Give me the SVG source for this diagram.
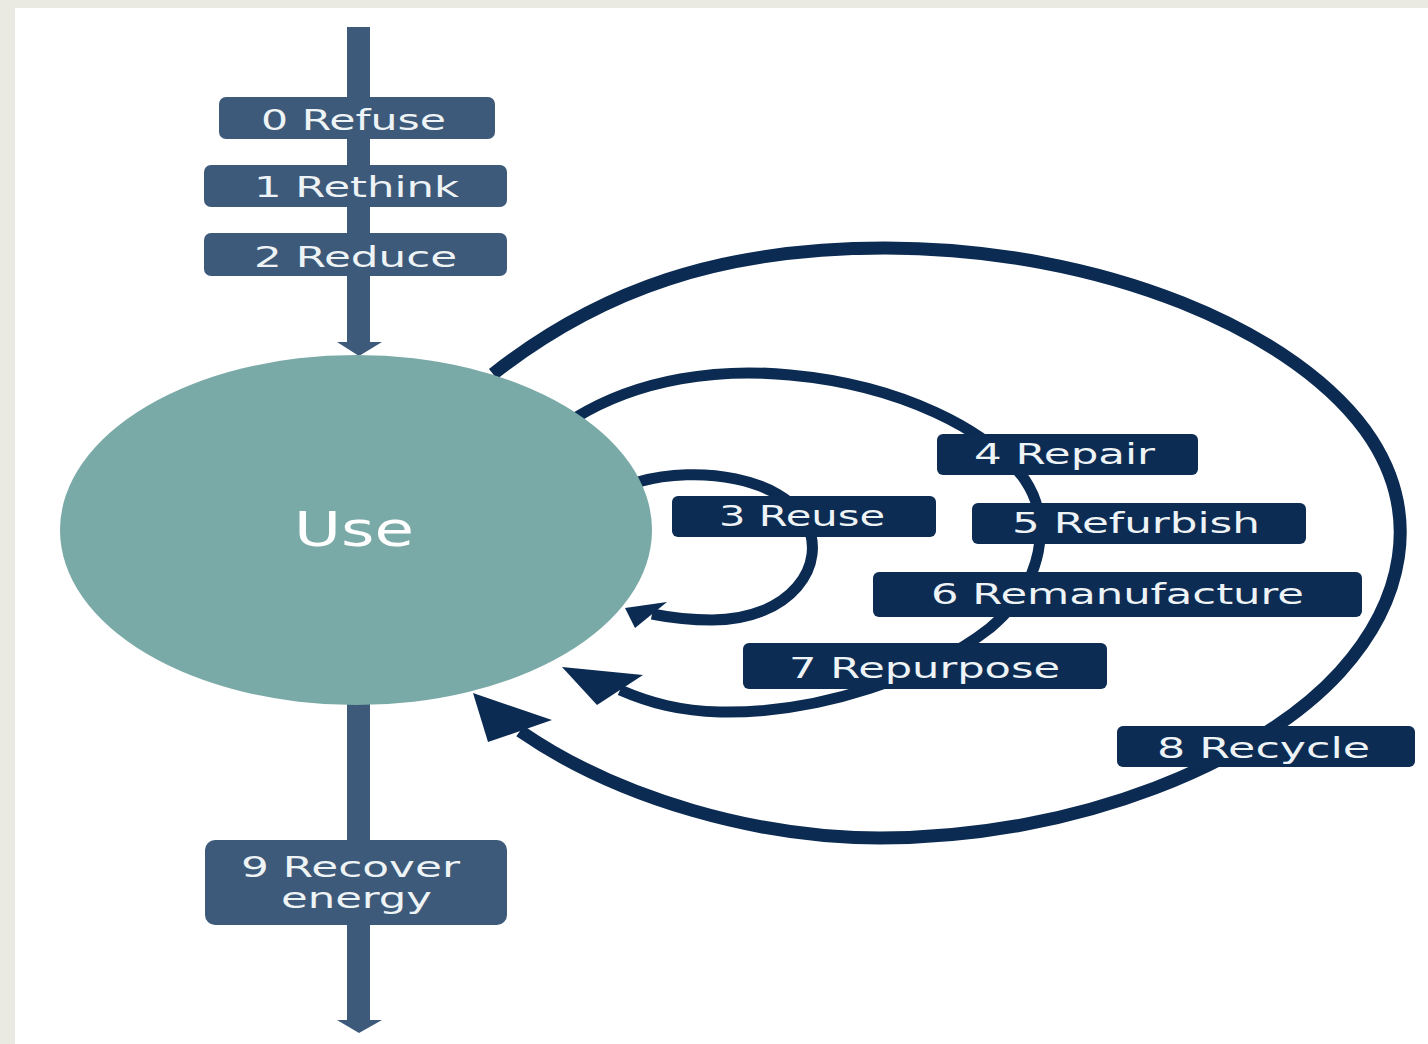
<svg xmlns="http://www.w3.org/2000/svg" width="1428" height="1044" viewBox="0 0 1428 1044">
  <style>
    .lbox { fill: #3d5a7a; }
    .rbox { fill: #0c2c54; }
    .lbl { font-family: "DejaVu Sans", Verdana, sans-serif; font-size: 28px; fill: #eef3f6; }
    .loop { fill: none; stroke: #0c2b52; stroke-linecap: butt; }
    .head { fill: #0c2b52; }
    .shaft { fill: #3d5a7a; }
  </style>
  <rect x="0" y="0" width="1428" height="1044" fill="#eaeae2"/>
  <rect x="15" y="8" width="1413" height="1036" fill="#ffffff"/>

  <g id="connectors">
    <!-- vertical flow -->
    <rect class="shaft" x="347" y="27" width="23" height="316"/>
    <polygon class="shaft" points="337,342 382,342 359,356"/>
    <rect class="shaft" x="347" y="700" width="23" height="322"/>
    <polygon class="shaft" points="337,1020 382,1020 359,1033"/>
    <!-- 3 Reuse loop -->
    <path class="loop" stroke-width="11" d="M 638 482 C 700 465 780 478 805 520 C 830 565 790 620 712 620 C 690 620 672 618 652 614"/>
    <polygon class="head" points="625,608 635,628 667,602"/>
    <!-- 4-7 loop -->
    <path class="loop" stroke-width="11" d="M 575 418 C 640 378 720 368 790 375 C 900 385 990 430 1025 480 C 1052 520 1045 582 990 628 C 930 675 820 714 720 712 C 680 711 650 703 620 690"/>
    <polygon class="head" points="562,667 597,705 643,675"/>
    <!-- 8 Recycle loop -->
    <path class="loop" stroke-width="13" d="M 493 374 C 600 290 720 248 885 248 C 1100 248 1300 330 1372 440 C 1420 515 1405 600 1340 672 C 1260 760 1080 838 880 838 C 760 838 620 800 520 731"/>
    <polygon class="head" points="473,693 488,742 552,720"/>
  </g>

  <g id="node-use">
    <ellipse cx="356" cy="530" rx="296" ry="175" fill="#7aaaa7"/>
    <text x="294" y="546" textLength="120" lengthAdjust="spacingAndGlyphs" font-family="'DejaVu Sans', Verdana, sans-serif" font-size="48" fill="#ffffff">Use</text>
  </g>

  <g id="node-0">
    <rect class="lbox" x="219" y="97" width="276" height="42" rx="7"/>
    <text class="lbl" x="261" y="130" textLength="185" lengthAdjust="spacingAndGlyphs">0 Refuse</text>
  </g>
  <g id="node-1">
    <rect class="lbox" x="204" y="165" width="303" height="42" rx="7"/>
    <text class="lbl" x="254" y="197" textLength="205" lengthAdjust="spacingAndGlyphs">1 Rethink</text>
  </g>
  <g id="node-2">
    <rect class="lbox" x="204" y="233" width="303" height="43" rx="7"/>
    <text class="lbl" x="254" y="267" textLength="203" lengthAdjust="spacingAndGlyphs">2 Reduce</text>
  </g>
  <g id="node-9">
    <rect class="lbox" x="205" y="840" width="302" height="85" rx="10"/>
    <text class="lbl" x="241" y="877" textLength="219" lengthAdjust="spacingAndGlyphs">9 Recover</text>
    <text class="lbl" x="281" y="908" textLength="151" lengthAdjust="spacingAndGlyphs">energy</text>
  </g>

  <g id="node-3">
    <rect class="rbox" x="672" y="496" width="264" height="41" rx="6"/>
    <text class="lbl" x="719" y="526" textLength="166" lengthAdjust="spacingAndGlyphs">3 Reuse</text>
  </g>
  <g id="node-4">
    <rect class="rbox" x="937" y="434" width="261" height="41" rx="6"/>
    <text class="lbl" x="974" y="464" textLength="181" lengthAdjust="spacingAndGlyphs">4 Repair</text>
  </g>
  <g id="node-5">
    <rect class="rbox" x="972" y="503" width="334" height="41" rx="6"/>
    <text class="lbl" x="1012" y="533" textLength="248" lengthAdjust="spacingAndGlyphs">5 Refurbish</text>
  </g>
  <g id="node-6">
    <rect class="rbox" x="873" y="572" width="489" height="45" rx="6"/>
    <text class="lbl" x="931" y="604" textLength="373" lengthAdjust="spacingAndGlyphs">6 Remanufacture</text>
  </g>
  <g id="node-7">
    <rect class="rbox" x="743" y="643" width="364" height="46" rx="6"/>
    <text class="lbl" x="789" y="678" textLength="271" lengthAdjust="spacingAndGlyphs">7 Repurpose</text>
  </g>
  <g id="node-8">
    <rect class="rbox" x="1117" y="726" width="298" height="41" rx="6"/>
    <text class="lbl" x="1157" y="758" textLength="213" lengthAdjust="spacingAndGlyphs">8 Recycle</text>
  </g>
</svg>
